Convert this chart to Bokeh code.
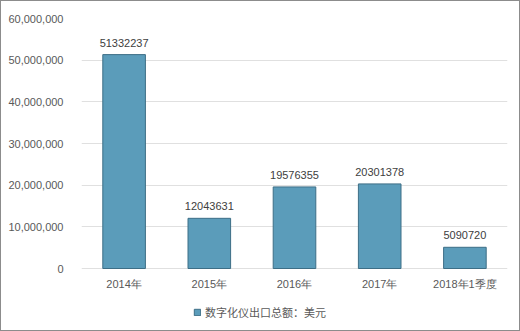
from bokeh.plotting import figure
from bokeh.models import ColumnDataSource, FactorRange, Range1d, NumeralTickFormatter, Legend, LegendItem, LabelSet, FixedTicker
from bokeh.core.properties import value
from bokeh.embed import file_html
from bokeh.resources import INLINE

categories = ["2014年", "2015年", "2016年", "2017年", "2018年1季度"]
values = [51332237, 12043631, 19576355, 20301378, 5090720]
labels = [str(v) for v in values]
y_ticks = [0, 10000000, 20000000, 30000000, 40000000, 50000000, 60000000]
series_name = "数字化仪出口总额：美元"

src = ColumnDataSource(dict(cat=categories, val=values, lab=labels, zero=[0] * len(values)))

p = figure(width=520, height=331, x_range=FactorRange(*categories, range_padding=0),
           y_range=Range1d(-14400000, 60000000), output_backend="svg", toolbar_location=None,
           x_axis_location=None,
           min_border_left=80, min_border_right=14, min_border_top=17, min_border_bottom=4)
p.styles = {"border": "1px solid #8c8c8c", "box-sizing": "border-box"}
p.outline_line_color = None
p.background_fill_color = "white"
p.border_fill_color = "white"

r = p.vbar(x="cat", top="val", width=0.5, source=src, fill_color="#5b9cba",
           line_color="#3d6e86", line_width=1)

p.add_layout(LabelSet(x="cat", y="val", text="lab", source=src, text_align="center",
                      text_baseline="bottom", y_offset=8, text_font=value("Liberation Sans"),
                      text_font_size="11px", text_color="#404040"))
p.add_layout(LabelSet(x="cat", y="zero", text="cat", source=src, text_align="center",
                      text_baseline="top", y_offset=-9, text_font=value("Liberation Sans"),
                      text_font_size="11px", text_color="#595959"))

p.yaxis.ticker = FixedTicker(ticks=y_ticks)
p.yaxis.formatter = NumeralTickFormatter(format="0,0")
p.yaxis.axis_line_color = None
p.yaxis.major_tick_line_color = None
p.yaxis.minor_tick_line_color = None
p.yaxis.major_label_text_font = "Liberation Sans"
p.yaxis.major_label_text_font_size = "11px"
p.yaxis.major_label_text_color = "#595959"
p.yaxis.major_label_standoff = 12

p.xgrid.grid_line_color = None
p.ygrid.grid_line_color = "#e0e0e0"
p.ygrid.ticker = FixedTicker(ticks=y_ticks)

legend = Legend(items=[LegendItem(label=series_name, renderers=[r])], location=(112, 8),
                orientation="horizontal", border_line_color=None, background_fill_alpha=0,
                label_text_font="Noto Sans CJK SC", label_text_font_size="11px",
                label_text_color="#595959", glyph_width=8, glyph_height=8,
                label_standoff=4, padding=0, margin=0, label_height=14)
p.add_layout(legend, "center")

open("out.html", "w").write(file_html(p, INLINE))
